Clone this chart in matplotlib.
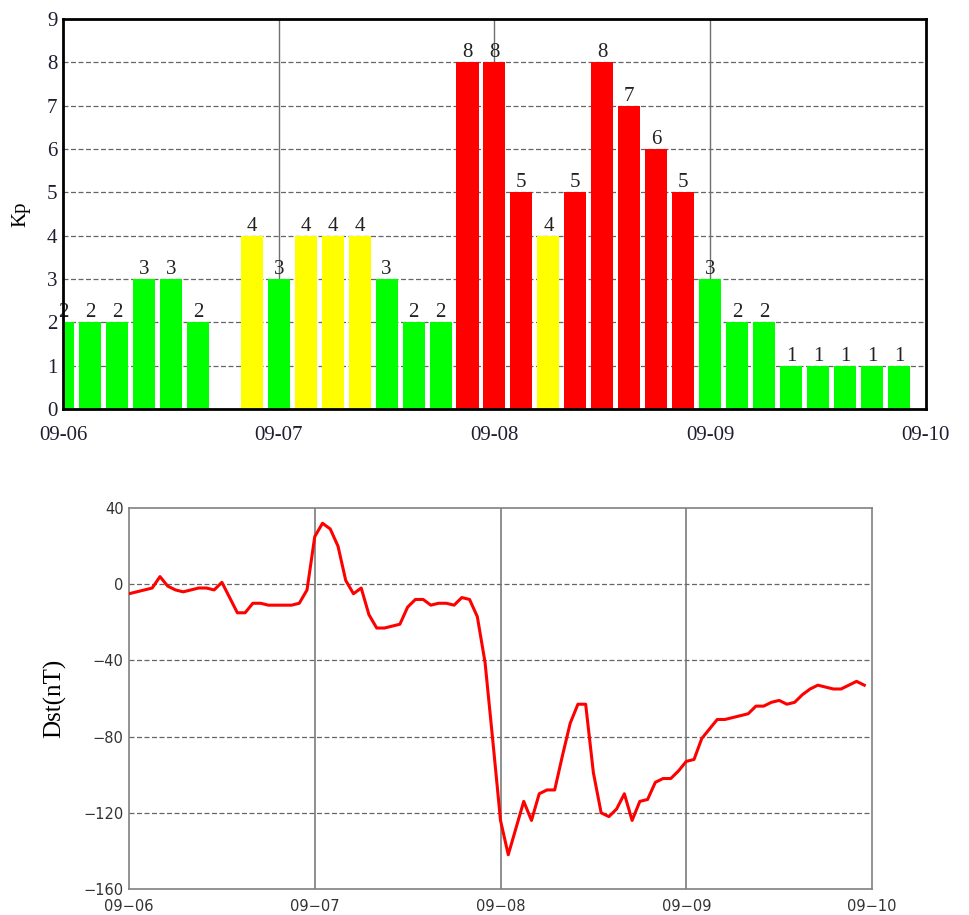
import numpy as np
import matplotlib
matplotlib.use('Agg')
import matplotlib.pyplot as plt

# Kp, 3-hour values from 09-06 00h to 09-09 21h (nan = no data)
kp_hours = np.arange(0, 96, 3)
kp = [2, 2, 2, 3, 3, 2, np.nan, 4,
      3, 4, 4, 4, 3, 2, 2, 8,
      8, 5, 4, 5, 8, 7, 6, 5,
      3, 2, 2, 1, 1, 1, 1, 1]

# Dst, hourly values (nT)
dst_hours = np.arange(0, 96)
dst = [-5, -4, -3, -2, 4, -1, -3, -4, -3, -2, -2, -3, 1, -7, -15, -15, -10, -10, -11, -11, -11, -11, -10, -3,
       25, 32, 29, 20, 2, -5, -2, -16, -23, -23, -22, -21, -12, -8, -8, -11, -10, -10, -11, -7, -8, -17, -41, -82,
       -124, -142, -128, -114, -124, -110, -108, -108, -90, -73, -63, -63, -99, -120, -122, -118, -110, -124, -114, -113, -104, -102, -102, -98,
       -93, -92, -81, -76, -71, -71, -70, -69, -68, -64, -64, -62, -61, -63, -62, -58, -55, -53, -54, -55, -55, -53, -51, -53]

day_ticks = [0, 24, 48, 72, 96]
day_labels = ['09-06', '09-07', '09-08', '09-09', '09-10']

def kp_color(v):
    if v >= 5:
        return '#ff0000'
    if v >= 4:
        return '#ffff00'
    return '#00ff00'

fig = plt.figure(figsize=(9.7, 9.15), dpi=100)

############### Kp
ax1 = fig.add_axes([0.065, 0.553, 0.8895, 0.4263])
for h, v in zip(kp_hours, kp):
    if np.isnan(v):
        continue
    ax1.bar(h, v, width=2.45, color=kp_color(v), zorder=3)
    ax1.annotate('%d' % v, (h, v), xytext=(0, 0), textcoords='offset points',
                 ha='center', va='bottom', fontsize=15, family='Liberation Serif',
                 color='#222222', zorder=5, annotation_clip=False)

ax1.set_xlim(0, 96)
ax1.set_ylim(0, 9)
ax1.set_yticks(range(10))
ax1.set_xticks(day_ticks)
ax1.set_xticklabels(day_labels)
for y in range(1, 9):
    ax1.axhline(y, color='#666666', lw=0.9, ls=(0, (4, 2)), zorder=1)
for x in day_ticks[1:4]:
    ax1.axvline(x, color='#707070', lw=1.0, zorder=2)
for s in ax1.spines.values():
    s.set_linewidth(2.0)
    s.set_color('black')
    s.set_zorder(6)
ax1.tick_params(axis='both', length=0, labelsize=15, labelcolor='#1e1e30')
ax1.tick_params(axis='x', pad=12)
ax1.tick_params(axis='y', pad=4)
for lab in ax1.get_xticklabels() + ax1.get_yticklabels():
    lab.set_family('Liberation Serif')
ax1.set_ylabel('Kp', fontsize=15, family='Liberation Serif', labelpad=12)

############### Dst
ax2 = fig.add_axes([0.133, 0.0284, 0.766, 0.4164])
ax2.plot(dst_hours, dst, color='#ff0000', lw=2.2, zorder=3)
ax2.set_xlim(0, 96)
ax2.set_ylim(-160, 40)
ax2.set_yticks([40, 0, -40, -80, -120, -160])
ax2.set_xticks(day_ticks)
ax2.set_xticklabels([d.replace('-', '\u2212') for d in day_labels])
for y in [0, -40, -80, -120]:
    ax2.axhline(y, color='#666666', lw=0.9, ls=(0, (4, 2)), zorder=1)
for x in day_ticks[1:4]:
    ax2.axvline(x, color='#707070', lw=1.1, zorder=2)
for s in ax2.spines.values():
    s.set_linewidth(1.2)
    s.set_color('#808080')
ax2.tick_params(axis='both', length=0, labelsize=10.5, labelcolor='#333333')
ax2.tick_params(axis='x', pad=7)
ax2.tick_params(axis='y', pad=4)
ax2.set_ylabel('Dst(nT)', fontsize=18, family='Liberation Serif', labelpad=12)

plt.savefig('out.png', dpi=100)
